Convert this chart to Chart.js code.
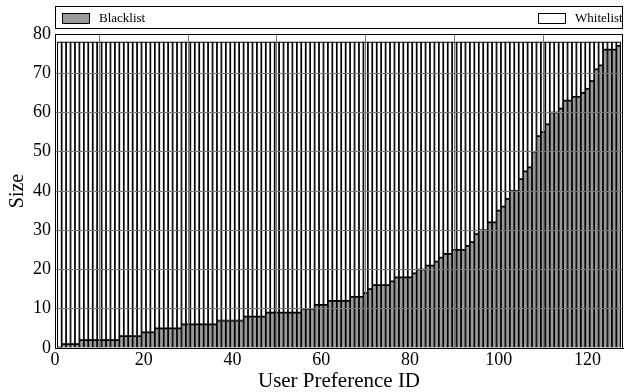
<!DOCTYPE html>
<html>
<head>
<meta charset="utf-8">
<script src="https://cdn.jsdelivr.net/npm/chart.js@4.4.1/dist/chart.umd.min.js"></script>
<style>
  body { margin: 0; background: #fff; }
  #wrap { position: relative; width: 624px; height: 392px; }
  #legend {
    position: absolute; left: 55px; top: 6px; width: 566px; height: 21px;
    border: 1px solid #000; background: #fff; box-sizing: content-box;
    font-family: "Liberation Serif", "DejaVu Serif", serif; font-size: 13px; color: #000;
  }
  .item { position: absolute; top: 3px; display: flex; align-items: center; white-space: nowrap; }
  .swatch { width: 26px; height: 9px; border: 1px solid #000; margin-right: 9px; }
</style>
</head>
<body>
<div id="wrap">
  <canvas id="chart" width="624" height="392"></canvas>
  <div id="legend">
    <div class="item" style="left:6px"><span class="swatch" style="background:#9a9a9a"></span>Blacklist</div>
    <div class="item" style="left:482px"><span class="swatch" style="background:#fff"></span>Whitelist</div>
  </div>
</div>
<script>
// ── DATA ──────────────────────────────────────────
const ids = Array.from({ length: 127 }, (_, i) => i + 1);

const blacklist = [
  0, 1, 1, 1, 1, 2, 2, 2, 2, 2,
  2, 2, 2, 2, 3, 3, 3, 3, 3, 4,
  4, 4, 5, 5, 5, 5, 5, 5, 6, 6,
  6, 6, 6, 6, 6, 6, 7, 7, 7, 7,
  7, 7, 8, 8, 8, 8, 8, 9, 9, 9,
  9, 9, 9, 9, 9, 10, 10, 10, 11, 11,
  11, 12, 12, 12, 12, 12, 13, 13, 13, 14,
  15, 16, 16, 16, 16, 17, 18, 18, 18, 18,
  19, 20, 20, 21, 21, 22, 23, 24, 24, 25,
  25, 25, 26, 27, 29, 30, 30, 32, 32, 35,
  36, 38, 40, 40, 43, 45, 46, 50, 54, 55,
  57, 60, 60, 61, 63, 63, 64, 64, 65, 66,
  68, 71, 72, 76, 76, 76, 77
];

const whitelist = [
  78, 77, 77, 77, 77, 76, 76, 76, 76, 76,
  76, 76, 76, 76, 75, 75, 75, 75, 75, 74,
  74, 74, 73, 73, 73, 73, 73, 73, 72, 72,
  72, 72, 72, 72, 72, 72, 71, 71, 71, 71,
  71, 71, 70, 70, 70, 70, 70, 69, 69, 69,
  69, 69, 69, 69, 69, 68, 68, 68, 67, 67,
  67, 66, 66, 66, 66, 66, 65, 65, 65, 64,
  63, 62, 62, 62, 62, 61, 60, 60, 60, 60,
  59, 58, 58, 57, 57, 56, 55, 54, 54, 53,
  53, 53, 52, 51, 49, 48, 48, 46, 46, 43,
  42, 40, 38, 38, 35, 33, 32, 28, 24, 23,
  21, 18, 18, 17, 15, 15, 14, 14, 13, 12,
  10, 7, 6, 2, 2, 2, 1
];

const xTicks = [0, 20, 40, 60, 80, 100, 120];
const yTicks = [0, 10, 20, 30, 40, 50, 60, 70, 80];

// ── CHART ─────────────────────────────────────────
const serif = '"Liberation Serif", "DejaVu Serif", serif';

const frame = {
  id: 'frame',
  afterDraw(chart) {
    const { ctx, chartArea: a } = chart;
    ctx.save();
    ctx.strokeStyle = '#000';
    ctx.lineWidth = 1;
    ctx.strokeRect(a.left + 0.5, a.top + 0.5, a.right - a.left - 1, a.bottom - a.top);
    ctx.restore();
  }
};

new Chart(document.getElementById('chart'), {
  type: 'bar',
  data: {
    datasets: [
      {
        label: 'Blacklist',
        data: ids.map((id, i) => ({ x: id, y: blacklist[i] })),
        backgroundColor: '#9a9a9a',
        borderColor: '#000',
        borderWidth: 1.2,
        borderSkipped: 'start',
      },
      {
        label: 'Whitelist',
        data: ids.map((id, i) => ({ x: id, y: whitelist[i] })),
        backgroundColor: '#fff',
        borderColor: '#000',
        borderWidth: 1.2,
        borderSkipped: false,
      }
    ]
  },
  options: {
    responsive: false,
    animation: false,
    barPercentage: 1,
    categoryPercentage: 1,
    layout: { padding: { top: 34, right: 1, left: 0, bottom: 0 } },
    plugins: { legend: { display: false }, tooltip: { enabled: false } },
    scales: {
      x: {
        type: 'linear',
        stacked: true,
        offset: false,
        min: 0,
        max: 128,
        afterFit: s => { s.height = 44; },
        afterBuildTicks: s => { s.ticks = xTicks.map(v => ({ value: v })); },
        ticks: { color: '#000', padding: 1, maxRotation: 0, font: { family: serif, size: 18 } },
        grid: { z: 1, color: '#777', borderDash: [1, 2], drawTicks: false },
        border: { color: '#000', width: 1, z: 2 },
        title: {
          display: true, text: 'User Preference ID', color: '#000',
          font: { family: serif, size: 21, lineHeight: 1 }, padding: { top: 0, bottom: 0 }
        }
      },
      y: {
        stacked: true,
        min: 0,
        max: 80,
        afterFit: s => { s.width = 55; },
        afterBuildTicks: s => { s.ticks = yTicks.map(v => ({ value: v })); },
        ticks: { color: '#000', padding: 4, font: { family: serif, size: 18 } },
        grid: { z: 1, color: '#777', borderDash: [1, 2], drawTicks: false },
        border: { color: '#000', width: 1, z: 2 },
        title: {
          display: true, text: 'Size', color: '#000',
          font: { family: serif, size: 20, lineHeight: 1.2 }, padding: { top: 6, bottom: 0 }
        }
      }
    }
  },
  plugins: [frame]
});
</script>
</body>
</html>
